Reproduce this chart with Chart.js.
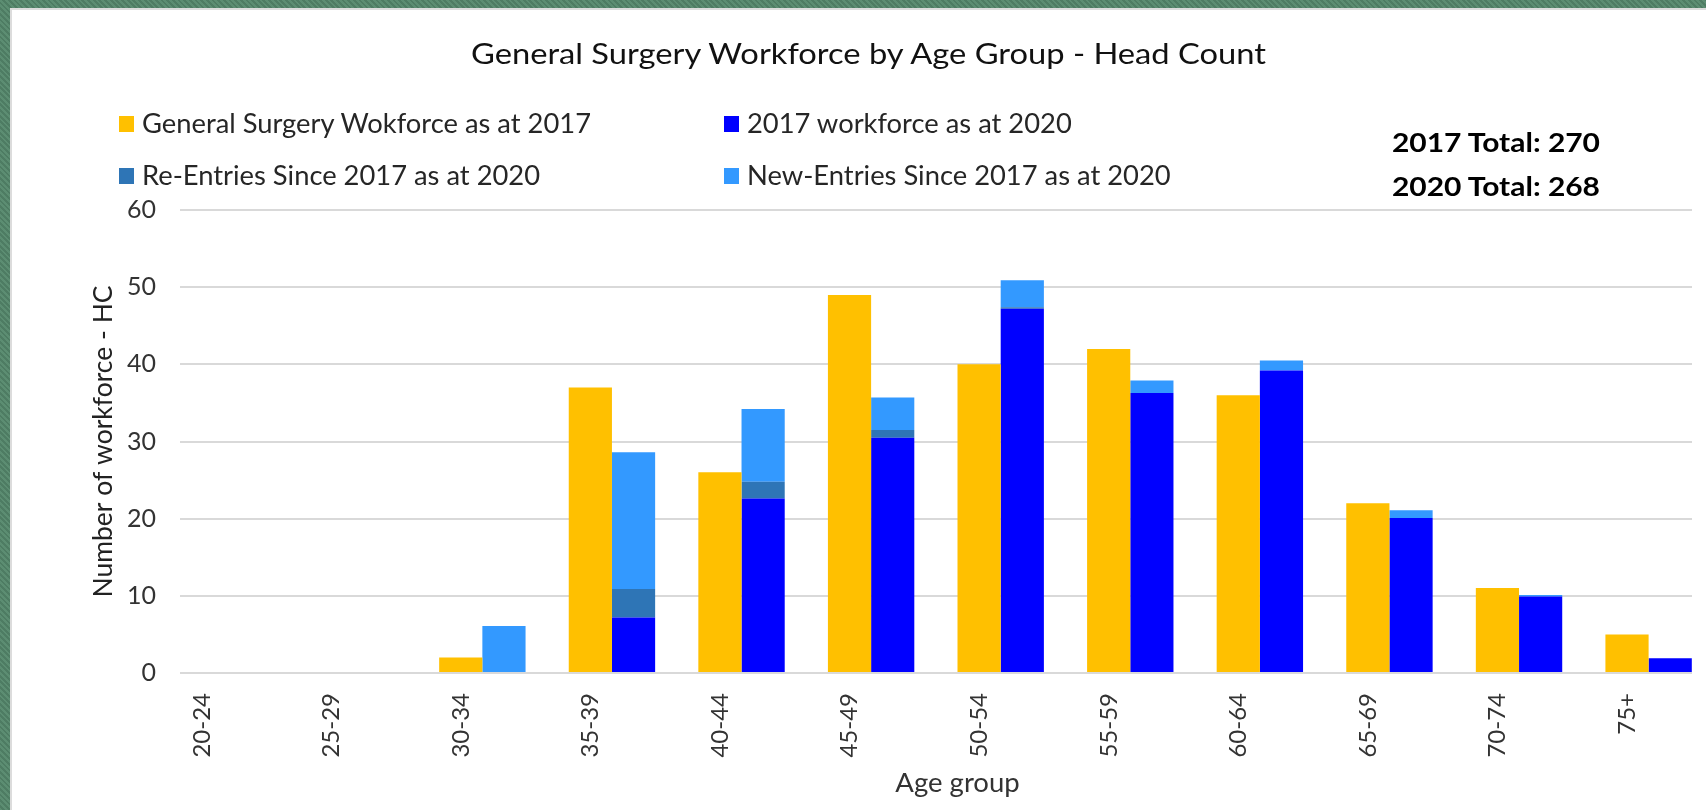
<!DOCTYPE html>
<html>
<head>
<meta charset="utf-8">
<script src="https://cdn.jsdelivr.net/npm/chart.js@4.4.1/dist/chart.umd.min.js"></script>
<style>
    html, body { margin: 0; padding: 0; }
    body {
        width: 1706px; height: 810px; overflow: hidden; position: relative;
        background: repeating-linear-gradient(45deg, #5c8d72 0 2px, #4e7c63 2px 4px);
        font-family: Lato, 'Open Sans', sans-serif;
    }
    #panel {
        position: absolute; left: 10px; top: 8px; right: 0; bottom: 0;
        background: #ffffff; box-shadow: inset 2px 2px 0 #dcdcdc;
    }
    #chartBox {
        position: absolute; left: 10px; top: 8px; width: 1682px; height: 802px; overflow: hidden;
    }
    .fit { display: inline-block; transform-origin: 0 50%; white-space: nowrap; }
    #title {
        position: absolute; left: 471px; top: 35px;
        font-size: 29px; color: #111; line-height: 36px;
    }
    .legend-item {
        position: absolute; font-size: 26px; color: #262626; line-height: 30px; white-space: nowrap;
    }
    .legend-item .swatch {
        position: absolute; left: 0; top: 8px; width: 15px; height: 16px;
    }
    .legend-item .fit { position: absolute; left: 23px; top: 0; }
    .total {
        position: absolute; left: 1392px; font-size: 26px; font-weight: bold; color: #000; line-height: 30px;
    }
</style>
</head>
<body>
<div id="panel"></div>
<div id="chartBox"><canvas id="workforceChart" width="1725" height="802"></canvas></div>
<div id="title"><span class="fit">General Surgery Workforce by Age Group - Head Count</span></div>
<div id="legend"></div>
<div class="total" style="top: 127px;"><span class="fit total-text">2017 Total: 270</span></div>
<div class="total" style="top: 171px;"><span class="fit total-text">2020 Total: 268</span></div>

<script>
const ageGroups = ['20-24', '25-29', '30-34', '35-39', '40-44', '45-49', '50-54', '55-59', '60-64', '65-69', '70-74', '75+'];
const workforce2017 = [0, 0, 2, 37, 26, 49, 40, 42, 36, 22, 11, 5];
const workforce2017At2020 = [0, 0, 0, 7.2, 22.6, 30.5, 47.2, 36.3, 39.2, 20.1, 9.9, 1.9];
const reEntries2020 = [0, 0, 0, 3.7, 2.2, 1.0, 0.2, 0, 0, 0, 0, 0];
const newEntries2020 = [0, 0, 6.1, 17.7, 9.4, 4.2, 3.5, 1.6, 1.3, 1.0, 0.2, 0];
const yTicks = [0, 10, 20, 30, 40, 50, 60];

const seriesNames = [
    'General Surgery Wokforce as at 2017',
    '2017 workforce as at 2020',
    'Re-Entries Since 2017 as at 2020',
    'New-Entries Since 2017 as at 2020'
];
const seriesColors = ['#FFC000', '#0000FF', '#2E75B6', '#3399FF'];

document.addEventListener('DOMContentLoaded', function() {
    // empty third slot in each category gives the gap after the 2020 bar
    const spacer = ageGroups.map(function() { return 0; });

    const data = {
        labels: ageGroups,
        datasets: [
            { label: seriesNames[0], data: workforce2017, backgroundColor: seriesColors[0], stack: 's2017' },
            { label: seriesNames[1], data: workforce2017At2020, backgroundColor: seriesColors[1], stack: 's2020' },
            { label: seriesNames[2], data: reEntries2020, backgroundColor: seriesColors[2], stack: 's2020' },
            { label: seriesNames[3], data: newEntries2020, backgroundColor: seriesColors[3], stack: 's2020' },
            { label: 'gap', data: spacer, backgroundColor: 'rgba(0,0,0,0)', stack: 'gap' }
        ]
    };

    const config = {
        type: 'bar',
        data: data,
        options: {
            responsive: false,
            animation: false,
            barPercentage: 1,
            categoryPercentage: 1,
            borderWidth: 0,
            inflateAmount: 0,
            layout: { padding: { top: 202, left: 0, right: 0, bottom: 0 } },
            scales: {
                x: {
                    stacked: true,
                    grid: { display: false, drawTicks: false },
                    border: { display: false },
                    ticks: {
                        color: '#333333',
                        font: { family: 'Lato', size: 24 },
                        minRotation: 90,
                        maxRotation: 90,
                        padding: 20,
                        labelOffset: -43
                    },
                    title: {
                        display: true,
                        text: 'Age group',
                        color: '#333333',
                        font: { family: 'Lato', size: 27.5 },
                        padding: { top: 0, bottom: 10 }
                    },
                    afterFit: function(scale) { scale.height = 137; }
                },
                y: {
                    stacked: true,
                    min: 0,
                    max: 60,
                    afterBuildTicks: function(scale) {
                        scale.ticks = yTicks.map(function(v) { return { value: v }; });
                    },
                    grid: { color: '#D9D9D9', lineWidth: 2, drawTicks: false },
                    border: { display: false },
                    ticks: {
                        color: '#333333',
                        font: { family: 'Lato', size: 25 },
                        padding: 24
                    },
                    title: {
                        display: true,
                        text: 'Number of workforce - HC',
                        color: '#222222',
                        font: { family: 'Lato', size: 26.5 },
                        padding: { top: 78, bottom: 0 }
                    },
                    afterFit: function(scale) { scale.width = 170; }
                }
            },
            plugins: {
                legend: { display: false },
                title: { display: false },
                tooltip: { enabled: false }
            }
        }
    };

    const ctx = document.getElementById('workforceChart').getContext('2d');
    new Chart(ctx, config);

    // legend laid out as a 2 x 2 grid like the original
    const legendPos = [[119, 108], [724, 108], [119, 160], [724, 160]];
    const legend = document.getElementById('legend');
    const legendTexts = [];
    seriesNames.forEach(function(name, i) {
        const item = document.createElement('div');
        item.className = 'legend-item';
        item.style.left = legendPos[i][0] + 'px';
        item.style.top = legendPos[i][1] + 'px';
        const box = document.createElement('span');
        box.className = 'swatch';
        box.style.background = seriesColors[i];
        const txt = document.createElement('span');
        txt.className = 'fit';
        txt.textContent = name;
        item.appendChild(box);
        item.appendChild(txt);
        legend.appendChild(item);
        legendTexts.push(txt);
    });

    // stretch texts so their widths match the original picture
    function stretch(els, refEl, target) {
        const k = target / refEl.getBoundingClientRect().width;
        els.forEach(function(el) { el.style.transform = 'scaleX(' + k + ')'; });
    }
    const titleEl = document.querySelector('#title .fit');
    stretch([titleEl], titleEl, 795);
    stretch(legendTexts, legendTexts[0], 449);
    const totals = Array.from(document.querySelectorAll('.total-text'));
    stretch(totals, totals[0], 208);
});
</script>
</body>
</html>
